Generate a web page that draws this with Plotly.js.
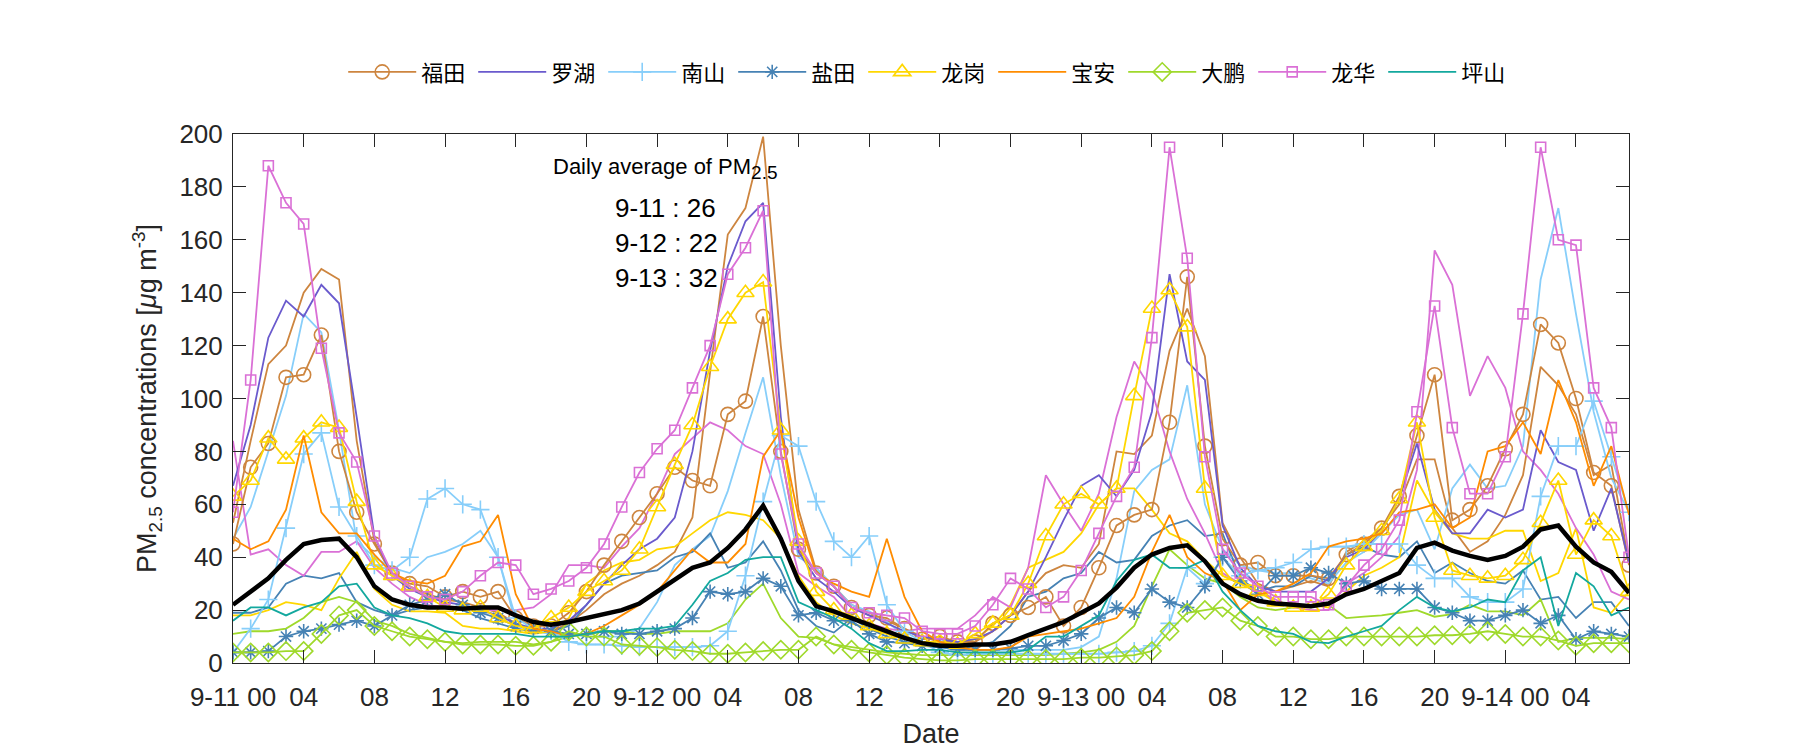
<!DOCTYPE html>
<html>
<head>
<meta charset="utf-8">
<script src="https://cdn.plot.ly/plotly-3.0.1.min.js"></script>
<style>html,body{margin:0;padding:0;background:#fff;}#chart{width:1800px;height:750px;}</style>
</head>
<body>
<div id="chart"></div>
<script>
// Hourly samples, 9-11 00:00 through 9-14 07:00 (80 hours)
const hours = Array.from({length: 80}, (_, i) => i);
const tickHours = [0,4,8,12,16,20,24,28,32,36,40,44,48,52,56,60,64,68,72,76];
const tickLabels = ["9-11 00","04","08","12","16","20","9-12 00","04","08","12","16","20","9-13 00","04","08","12","16","20","9-14 00","04"];

const names = ["福田","罗湖","南山","盐田","龙岗","宝安","大鹏","龙华","坪山"];

const futian = [45,74,83,108,109,124,80,57,45,34,30,29,25,27,25,27,17,14,14,19,27,37,46,55,64,74,69,67,94,99,131,80,43,34,29,21,18,17,13,9,10,8,8,15,18,21,25,14,21,36,52,56,58,91,146,82,47,37,38,33,33,33,32,41,45,51,63,86,109,54,58,67,81,94,128,121,100,72,67,37];
const luohu = [67,90,123,137,131,143,136,93,48,33,28,25,23,22,20,18,15,13,13,16,22,30,37,43,47,55,80,118,150,167,174,93,42,32,27,21,18,15,12,10,9,8,9,12,18,27,40,54,67,71,63,73,95,147,114,107,52,36,29,27,27,27,32,40,43,50,62,83,58,49,49,58,55,58,88,76,73,50,66,38];
const nanshan = [4,13,24,51,79,87,59,48,37,35,40,62,66,60,58,40,17,13,12,8,7,7,6.5,6,6,6,6,6.5,12,33,61,86,82,61,46,40,48,22,12,8,4,3,3.5,3.5,3.5,3.5,3.5,3.5,3.5,3.5,4,4.5,6.5,15,36,30,40,33,35,36,38,43,44,44,45,45,45,37,32,32,25,23,23,28,63,82,82,99,78,57];
const yantian = [4,4,4.5,10,12,13,14.5,16,14,18,22,24,26,22,19,17,14,13,12,11,11,12,11,11,12,13,17,27,26,27,32,29,18,19,16,16,11,8,7.5,6.5,6,5,5,5,5.5,6.5,6.5,8.5,11,17,21,19,28,23,21,29,40,31,26,33,33,36,34,30,31,28,28,28,21,19,16,16,18,20,15,18,9,12,11,10];
const longgang = [63,69,85,77,85,91,89,61,37,33,29,25,21,20,21,17,14,13,17,21,27,31,35,43,59,75,90,112,130,140,144,88,46,27,20,18,14,11,9,8,8,7,11,15,18,30,48,60,64,60,66,101,134,141,127,66,33,30,27,23,21,21,26,37,44,50,62,91,55,35,33,32,33,39,53,69,41,54,48,27];
const baoan = [47,43,46,58,86,57,49,49,41,34,31,30,33,44,46,56,26,13,12,10,11,14,18,22,27,35,43,38,38,45,78,88,55,34,30,27,25,47,25,12,8,6,5,5,6,10,11,12,13,15,17,25,42,56,40,34,31,20,26,27,30,34,44,46,47,49,57,58,60,51,55,80,82,91,79,107,91,67,82,56];
const dapeng = [4,4,4,4.5,4.5,11,18,20,14,12,10,9,8,7,7,7,6.5,6.5,8,12,10,10,7,6.5,6,5,4.5,3.5,3.5,4,4.5,5,5,10,7,5,4,3,2,1.5,1,1,1.5,1.5,1.5,1.5,1.5,1.5,2,2,2.5,3,4.5,12,19,20,21,16,14,10,10,9,9,10,10,10,10,10,10.5,10.5,11,12,11,10,10,8.5,6.5,7.5,7.5,7.5];
const longhua = [57,107,188,174,166,119,87,76,48,34,29,25,24,27,33,38,37,26,28,31,36,45,59,72,81,88,104,120,147,157,171,79,45,34,29,21,19,18,17,12,11,11,14,22,32,28,21,25,35,49,63,74,123,195,153,78,43,34,29,25,25,25,22,29,37,43,54,95,135,89,64,64,78,132,195,160,158,104,89,40];
const pingshan = [16,21,21,18,21,23,29,30,21,18,17,15,12,11,11,11,11,10,10,10,11,12,12,13,13,14,22,31,34,39,40,40,23,20,17,13,7.5,4.5,4.5,5,5,4,4,4,4,5,10,10,14,18,31,39,41,36,36,39,27,20,14,12,11,8,7.5,10,12,14,20,25,21,19.5,21,24,23,35,40,14,34,29,18,21];

// Additional station curves (unlabelled, drawn in the district colours)
const futian2 = [53,84,113,120,140,149,145,84,46,33,29,26,24,23,21,19,15,12,12,15,20,26,30,33,37,42,55,110,162,172,199,120,58,35,29,22,19,16,13,10,8,8,8,12,18,27,34,37,36,45,80,79,86,118,134,116,53,40,30,27,29,31,29,42,46,51,60,77,77,51,42,46,56,71,112,105,94,71,75,38];
const nanshan2 = [47,59,80,101,132,125,88,46,40,36,34,40,42,45,50,40,15,12,11,11,10,10,10,13,23,37,43,48,65,87,108,71,40,36,29,22,19.5,15.6,10.4,7.8,6,5,5,5,5,5,5,5,6,10,32,65,73,77,105,60,43,37,35,34,34,32,30,38,42,49,56,58,43,66,75,66,67,82,145,172,132,95,70,57];
const yantian2 = [19,19,21,30,33,32,34,23,20,18,20,21,21,20,17,15,13,12,12,14,22,30,33,34,35,40,42,49,36,38,46,35,20,14,11.5,17,13,10,8,7,6,6,6,8,14,25,27,32,34,42,38,39,48,52,54,48,49,32,27,29,29,33,31,41,44,41,40,46,34,38,34,31,30,35,24,25,17,23,23,14];
const longgang2 = [18,18,20,23,22,20,32,42,28,22,19.5,19.5,19,14,13,13,12,11,12,17,30,35,38,39,43,44,49,54,57,56,54,47,33,23,18,15,13,11,9,8,7,7,9,14,22,36,39,42,49,60,66,66,58,49,46,39,33,30,29,23,21,22,21,27,33,36,40,69,57,49,47,47,50,50,31,34,51,21,19,27];
const dapeng2 = [11,12,12,13,17,23,25,23,16,14,11,9.5,8,7.5,8,8,8,7,8,10,11,12,12,11,11,12,12,12,15,24,30,17,10,9.5,7,6,5,4,3.5,3,3,3,3,3,3,3,3,3.5,4,5,8,14,29,43,37,32,30,25,21,20,21,22,22,17,17.5,18,19,20,17.5,18.5,22,19.5,19.5,18,24,8,9.5,9.5,9.5,9];
const longhua2 = [84,41,43,37,33,42,42,46,36,30,25,22,21,21,20,20,20,21,26,37,37,36,44,51,64,79,85,91,88,82,79,60,34,29,25,17,15,13,12,13,13,13,18,25,21,36,71,60,50,64,93,114,103,80,62,49,34,30,27,24,21,20,20,30,34,40,48,73,156,143,101,116,104,80,73,64,51,41,27,24];

// Average of all stations
const average = [22,27,32,39,45,46.5,47,40,29,24,22,21,21,20.5,21,21,18,15.5,14.5,15.5,17,18.5,20,22.5,27,32,36,38,43.5,50.5,59.5,47,31,21.5,19.5,17,14.5,12,9.5,7.5,6.5,6.5,7,7,8,10.5,13,15.5,19,22.5,28.5,36,41,43.5,44.5,38.5,30,26,23.5,22.5,22,21.5,22.5,26,28,31,34,43.5,45.5,42.5,40.5,39,40.5,44,50.5,52,44,38,34.5,26.5];

const dailyAvgDays = ["9-11","9-12","9-13"];
const dailyAvgValues = [26,22,32];

const colors = ["#CD853F","#6A5ACD","#87CEFA","#4682B4","#FFD700","#FF8C00","#9FD92B","#DA70D6","#13A89E"];
const symbols = ["circle-open", null, "cross-thin-open", "asterisk-open", "triangle-up-open", null, "diamond-open", "square-open", null];
const msizes = [14, 0, 13, 12, 15, 0, 14, 10, 0];
const mainSeries = [futian, luohu, nanshan, yantian, longgang, baoan, dapeng, longhua, pingshan];

const extraSeries = [futian2, nanshan2, yantian2, longgang2, dapeng2, longhua2];
const extraColorIdx = [0, 2, 3, 4, 6, 7];

const traces = [];
extraSeries.forEach((s, k) => {
  traces.push({
    x: hours, y: s, type: "scatter", mode: "lines", showlegend: false, hoverinfo: "skip",
    line: {color: colors[extraColorIdx[k]], width: 1.8}
  });
});
mainSeries.forEach((s, i) => {
  const t = {
    x: hours, y: s, type: "scatter", name: names[i], legendrank: i + 1,
    mode: symbols[i] ? "lines+markers" : "lines",
    line: {color: colors[i], width: 1.8}
  };
  if (symbols[i]) {
    t.marker = {symbol: symbols[i], size: msizes[i], color: colors[i], line: {color: colors[i], width: 1.6}};
  }
  traces.push(t);
});
traces.push({
  x: hours, y: average, type: "scatter", mode: "lines", showlegend: false, name: "average",
  line: {color: "#000000", width: 4.5}
});

const fam = "Liberation Sans, Arial, sans-serif";
const axisFont = {family: fam, size: 26, color: "#262626"};
const titleFont = {family: fam, size: 27, color: "#262626"};

const annotations = [{
  xref: "paper", yref: "paper", x: 0.2275, y: 0.934, xanchor: "left", yanchor: "middle",
  text: "Daily average of PM<sub><span style='font-size:19px'>2.5</span></sub>", showarrow: false, font: {family: fam, size: 22, color: "#000"}
}];
const annY = [0.860, 0.794, 0.728];
dailyAvgDays.forEach((d, i) => {
  annotations.push({
    xref: "paper", yref: "paper", x: 0.2725, y: annY[i], xanchor: "left", yanchor: "middle",
    text: d + " : " + dailyAvgValues[i], showarrow: false, font: {family: fam, size: 26, color: "#000"}
  });
});

const layout = {
  width: 1800, height: 750,
  margin: {l: 233, r: 171, t: 134, b: 87},
  paper_bgcolor: "#fff", plot_bgcolor: "#fff",
  font: axisFont,
  showlegend: true,
  legend: {
    orientation: "h", x: 0.498, xanchor: "center", y: 1.117, yanchor: "middle",
    font: {family: "Noto Sans CJK SC, sans-serif", size: 22, color: "#000"},
    entrywidth: 47, entrywidthmode: "pixels", itemwidth: 68, bgcolor: "rgba(0,0,0,0)"
  },
  xaxis: {
    range: [0, 79], tickvals: tickHours, ticktext: tickLabels,
    ticks: "inside", ticklen: 13, tickwidth: 1, tickcolor: "#262626",
    showline: true, linecolor: "#262626", linewidth: 1, mirror: "ticks",
    showgrid: false, zeroline: false, tickangle: 0, ticklabelstandoff: 11,
    tickfont: axisFont,
    title: {text: "Date", font: titleFont, standoff: 12}
  },
  yaxis: {
    range: [0, 200], dtick: 20, tick0: 0,
    ticks: "inside", ticklen: 13, tickwidth: 1, tickcolor: "#262626",
    showline: true, linecolor: "#262626", linewidth: 1, mirror: "ticks",
    showgrid: false, zeroline: false, ticklabelstandoff: 4,
    tickfont: axisFont,
    title: {text: "PM<sub>2.5</sub> concentrations [<i>μ</i>g m<sup>-3</sup>]", font: titleFont, standoff: 14}
  },
  annotations: annotations
};

Plotly.newPlot("chart", traces, layout, {displayModeBar: false, staticPlot: true});
</script>
</body>
</html>
